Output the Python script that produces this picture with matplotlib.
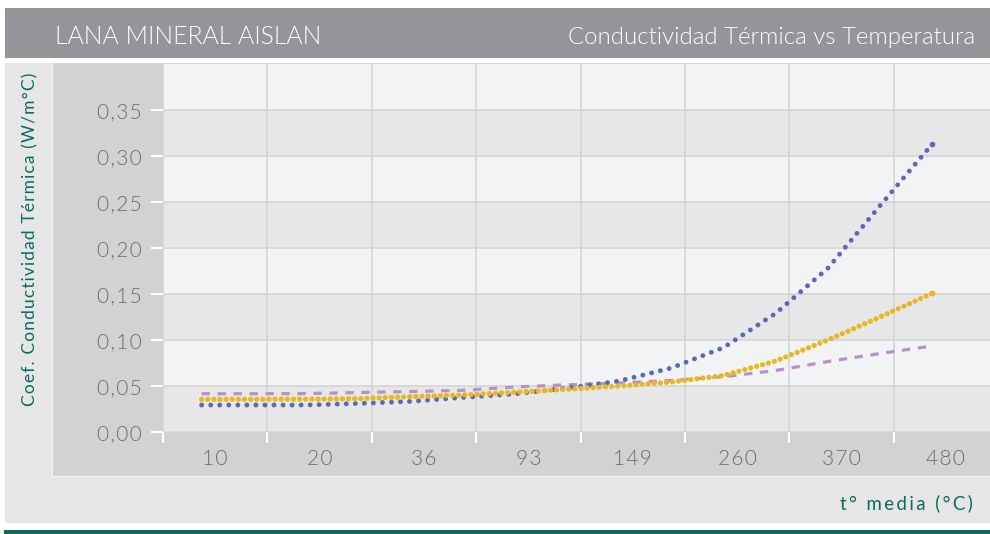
import numpy as np
import matplotlib
matplotlib.use('Agg')
import matplotlib.pyplot as plt
from matplotlib.patches import Rectangle

plt.rcParams['font.family'] = ['Lato', 'DejaVu Sans']

# categories on the x axis (temperatura media, °C)
temps = ['10', '20', '36', '93', '149', '260', '370', '480']

# y axis ticks
y_ticks = [0.00, 0.05, 0.10, 0.15, 0.20, 0.25, 0.30, 0.35]
y_labels = ['0,00', '0,05', '0,10', '0,15', '0,20', '0,25', '0,30', '0,35']

# readings of the three curves, x in category units
x_read = [0.37, 0.87, 1.37, 1.87, 2.37, 2.87, 3.37, 3.87,
          4.37, 4.87, 5.37, 5.87, 6.37, 6.87, 7.37]
blue = [0.0293, 0.0293, 0.0293, 0.0310, 0.0332, 0.0375, 0.0413, 0.0478,
        0.0554, 0.0696, 0.0918, 0.1290, 0.1780, 0.2460, 0.3130]
yellow = [0.0355, 0.0355, 0.0357, 0.0362, 0.0384, 0.0402, 0.0432, 0.0464,
          0.0500, 0.0543, 0.0614, 0.0772, 0.1000, 0.1250, 0.1508]
purple = [0.0416, 0.0416, 0.0418, 0.0429, 0.0440, 0.0453, 0.0489, 0.0513,
          0.0533, 0.0560, 0.0601, 0.0668, 0.0766, 0.0853, 0.0935]

W, H = 990, 534
GREEN = '#0b6b5f'
TICK_GREY = '#6d6e71'

fig = plt.figure(figsize=(W / 100, H / 100), dpi=100)
fig.patch.set_facecolor('white')


def px_rect(x0, y0, x1, y1, color):
    # rectangle given in pixel coords from the top-left corner
    r = Rectangle((x0 / W, 1 - y1 / H), (x1 - x0) / W, (y1 - y0) / H,
                  transform=fig.transFigure, facecolor=color,
                  edgecolor='none', zorder=-5)
    fig.patches.append(r)


def spaced(s, sep):
    return sep.join(s)


# title bar and panels
px_rect(5, 8, 990, 58, '#939598')
px_rect(5, 63, 990, 523, '#e6e6e6')
px_rect(52, 63, 990, 477, '#f4f4f4')
px_rect(53, 63, 990, 476, '#d1d2d4')
px_rect(4, 530, 990, 534, GREEN)

fig.text(55 / W, 1 - 44 / H, 'LANA MINERAL AISLAN', color='white',
         fontsize=17.8, fontweight=300, ha='left', va='baseline')
fig.text(975 / W, 1 - 44 / H, 'Conductividad Térmica vs Temperatura',
         color='white', fontsize=17.3, fontweight=300, ha='right',
         va='baseline')

ax = fig.add_axes([163 / W, 1 - 432 / H, 835 / W, 368 / H])
ax.set_zorder(2)
ax.set_xlim(0, 8)
ax.set_ylim(0, 0.40)
ax.set_facecolor('#f2f3f5')
for i in range(8):
    if i % 2 == 0:
        ax.axhspan(i * 0.05, (i + 1) * 0.05, color='#e7e7e7', zorder=0, lw=0)

for s in ax.spines.values():
    s.set_visible(False)

ax.set_yticks(y_ticks)
ax.set_yticklabels([spaced(l, '\u200a') for l in y_labels])
ax.set_xticks(np.arange(0, 9))
ax.set_xticklabels([])
ax.set_xticks(np.arange(8) + 0.5, minor=True)
ax.set_xticklabels([spaced(t, '\u200a') for t in temps], minor=True)

ax.tick_params(axis='y', direction='out', length=8.5, width=1.5,
               color='white', pad=6.5, labelsize=15, labelcolor=TICK_GREY)
ax.tick_params(axis='x', which='major', direction='out', length=8,
               width=1.5, color='white')
ax.tick_params(axis='x', which='minor', length=0, pad=12, labelsize=15,
               labelcolor=TICK_GREY)
for lab in ax.get_yticklabels() + ax.get_xticklabels(minor=True):
    lab.set_fontweight(300)

ax.grid(True, which='major', color='#d3d3d3', lw=1.1, zorder=1)
ax.set_axisbelow(True)

last = [len(x_read) - 1]
ax.plot(x_read, purple, color='#bb90c8', lw=2.3,
        linestyle=(0, (2.6, 2.4)), zorder=3)
ax.plot(x_read, blue, color='#5b67b8', lw=3.5,
        linestyle=(0, (0.01, 1.85)), dash_capstyle='round', zorder=4,
        marker='o', markevery=last, ms=4, mec='none')
ax.plot(x_read, yellow, color='#e6b823', lw=3.8,
        linestyle=(0, (0.01, 1.15)), dash_capstyle='round', zorder=5,
        marker='o', markevery=last, ms=4.2, mec='none')

fig.text(30 / W, 1 - 239 / H,
         spaced('Coef. Conductividad Térmica (W/m°C)', '\u200a'),
         color=GREEN, fontsize=12.5, rotation=90, ha='center', va='center')
fig.text(973 / W, 1 - 503 / H, spaced('t° media (°C)', '\u2009'),
         color=GREEN, fontsize=13.5, ha='right', va='center')

fig.savefig('out.png', dpi=100)
